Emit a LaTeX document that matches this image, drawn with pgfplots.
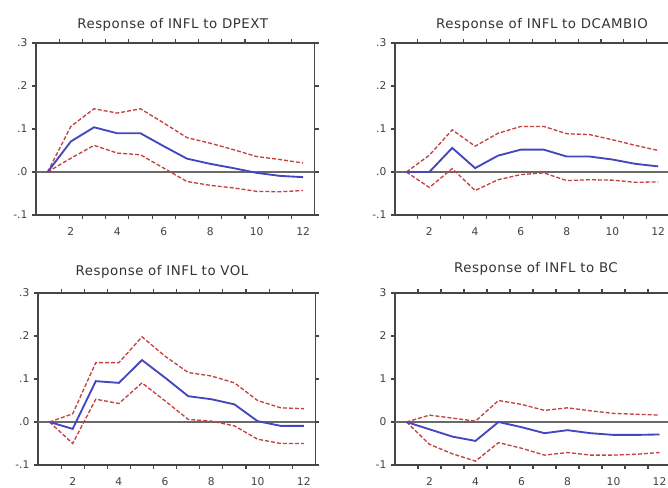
\documentclass[border=0pt]{standalone}
\usepackage{fontspec}
\setmainfont{DejaVu Sans}
\newfontfamily\titlefont[LetterSpace=4]{DejaVu Sans}
\usepackage{pgfplots}
\pgfplotsset{compat=1.18}

\definecolor{irfblue}{RGB}{70,70,190}
\definecolor{irfred}{RGB}{195,65,65}
\definecolor{zerogray}{RGB}{105,105,105}
\definecolor{framegray}{RGB}{70,70,70}

\pgfplotsset{
  irf/.style={
    scale only axis, height=129pt,
    xmin=0.5, xmax=12.5, ymin=-0.1, ymax=0.3,
    xtick={2,4,6,8,10,12}, xticklabels={2,4,6,8,10,12},
    minor xtick={1.5,2.5,...,11.5},
    ytick={-0.1,0,0.1,0.2,0.3},
    yticklabels={-.1,.0,.1,.2,.3},
    tick align=outside, major tick length=3pt, minor tick length=3pt,
    tick style={framegray, line width=0.8pt},
    major x tick style={draw=none},
    axis line style={framegray, line width=1pt},
    ticklabel style={font=\fontsize{8}{9}\selectfont, text=black!75},
    xticklabel style={yshift=-3pt},
    /pgf/number format/assume math mode=true,
  },
  band/.style={irfred, line width=1pt, dash pattern=on 3pt off 1.5pt},
  resp/.style={irfblue, line width=1.4pt},
  zero/.style={zerogray, line width=1.6pt},
}
\tikzset{ttl/.style={font=\titlefont\fontsize{10}{12}\selectfont, text=black!80}}

\begin{document}
\begin{tikzpicture}
\useasboundingbox (0,0) rectangle (501pt,365.25pt);
\clip (0,0) rectangle (501pt,365.25pt);

% DPEXT
\begin{axis}[irf, width=209pt, at={(27pt,333pt)}, anchor=north west]
\addplot[zero] coordinates {(0.5,0) (12.5,0)};
\addplot[band] coordinates {(1,0) (2,0.106) (3,0.147) (4,0.137) (5,0.147) (6,0.114) (7,0.080) (8,0.067) (9,0.052) (10,0.036) (11,0.029) (12,0.021)};
\addplot[band] coordinates {(1,0) (2,0.032) (3,0.062) (4,0.044) (5,0.040) (6,0.009) (7,-0.022) (8,-0.031) (9,-0.037) (10,-0.045) (11,-0.046) (12,-0.043)};
\addplot[resp] coordinates {(1,0) (2,0.071) (3,0.104) (4,0.090) (5,0.090) (6,0.060) (7,0.031) (8,0.019) (9,0.009) (10,-0.002) (11,-0.009) (12,-0.012)};
\end{axis}

% DCAMBIO
\begin{axis}[irf, width=206pt, at={(296.25pt,333pt)}, anchor=north west]
\addplot[zero] coordinates {(0.5,0) (12.5,0)};
\addplot[band] coordinates {(1,0) (2,0.039) (3,0.098) (4,0.060) (5,0.090) (6,0.106) (7,0.106) (8,0.089) (9,0.087) (10,0.075) (11,0.062) (12,0.050)};
\addplot[band] coordinates {(1,0) (2,-0.036) (3,0.008) (4,-0.043) (5,-0.018) (6,-0.006) (7,-0.002) (8,-0.020) (9,-0.018) (10,-0.019) (11,-0.024) (12,-0.023)};
\addplot[resp] coordinates {(1,0) (2,0) (3,0.056) (4,0.009) (5,0.038) (6,0.052) (7,0.052) (8,0.036) (9,0.036) (10,0.029) (11,0.019) (12,0.013)};
\end{axis}

% VOL
\begin{axis}[irf, width=208pt, at={(28.5pt,145.5pt)}, anchor=north west]
\addplot[zero] coordinates {(0.5,0) (12.5,0)};
\addplot[band] coordinates {(1,0) (2,0.019) (3,0.138) (4,0.138) (5,0.198) (6,0.153) (7,0.115) (8,0.107) (9,0.091) (10,0.050) (11,0.033) (12,0.031)};
\addplot[band] coordinates {(1,0) (2,-0.050) (3,0.053) (4,0.043) (5,0.091) (6,0.049) (7,0.006) (8,0.002) (9,-0.009) (10,-0.040) (11,-0.050) (12,-0.050)};
\addplot[resp] coordinates {(1,0) (2,-0.016) (3,0.095) (4,0.091) (5,0.144) (6,0.103) (7,0.060) (8,0.053) (9,0.041) (10,0.002) (11,-0.009) (12,-0.009)};
\end{axis}

% BC
\begin{axis}[irf, width=207pt, at={(296.25pt,145.5pt)}, anchor=north west,
  yticklabels={-1,0,1,2,3}]
\addplot[zero] coordinates {(0.5,0) (12.5,0)};
\addplot[band] coordinates {(1,0) (2,0.016) (3,0.009) (4,0.002) (5,0.050) (6,0.041) (7,0.027) (8,0.033) (9,0.026) (10,0.020) (11,0.018) (12,0.016)};
\addplot[band] coordinates {(1,0) (2,-0.052) (3,-0.074) (4,-0.091) (5,-0.048) (6,-0.061) (7,-0.077) (8,-0.071) (9,-0.077) (10,-0.077) (11,-0.075) (12,-0.071)};
\addplot[resp] coordinates {(1,0) (2,-0.017) (3,-0.034) (4,-0.044) (5,0) (6,-0.012) (7,-0.026) (8,-0.019) (9,-0.026) (10,-0.030) (11,-0.030) (12,-0.029)};
\end{axis}

\node[ttl] at (129.5pt,346.5pt) {Response of INFL to DPEXT};
\node[ttl] at (406.5pt,346.5pt) {Response of INFL to DCAMBIO};
\node[ttl] at (121.5pt,161.25pt) {Response of INFL to VOL};
\node[ttl] at (402pt,163.5pt) {Response of INFL to BC};
\end{tikzpicture}
\end{document}
